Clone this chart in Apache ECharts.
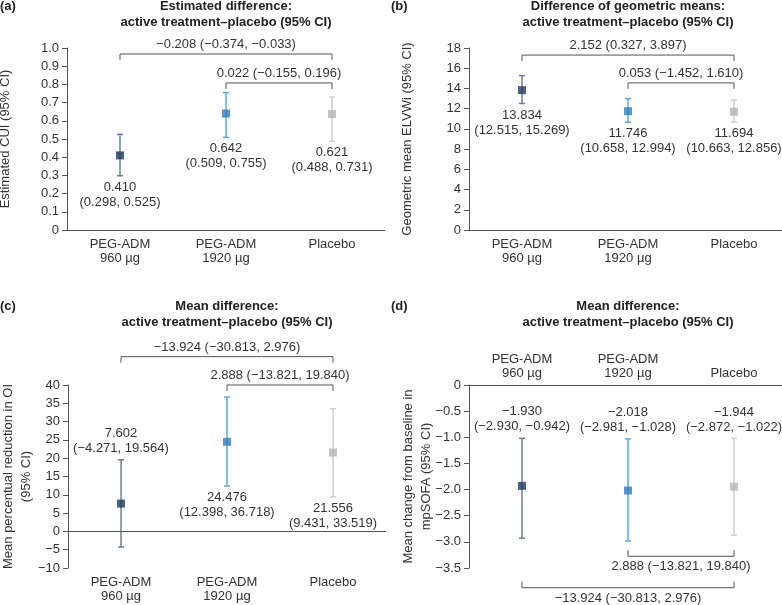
<!DOCTYPE html>
<html>
<head>
<meta charset="utf-8">
<script src="https://cdn.jsdelivr.net/npm/echarts@6/dist/echarts.min.js"></script>
<style>
html, body { margin: 0; padding: 0; background: #fff; }
#main { width: 782px; height: 605px; }
</style>
</head>
<body>
<div id="main"></div>
<script>
const categories = ['PEG-ADM\n960 µg', 'PEG-ADM\n1920 µg', 'Placebo']
const markerColors = ['#1d3a5c', '#2d80c2', '#b5b5b5']
const whiskerColors = ['#6b7f99', '#5ea8de', '#cfcfcf']

// (a) estimated CUI
const cuiMean = [0.41, 0.64, 0.637]
const cuiLow = [0.298, 0.509, 0.488]
const cuiHigh = [0.525, 0.755, 0.731]
const cuiText = ['0.410\n(0.298, 0.525)', '0.642\n(0.509, 0.755)', '0.621\n(0.488, 0.731)']
const cuiBrackets = [[0, 2, 0.967], [1, 2, 0.808]]
const cuiBracketText = ['−0.208 (−0.374, −0.033)', '0.022 (−0.155, 0.196)']

// (b) geometric mean ELVWi
const elvwiMean = [13.834, 11.746, 11.694]
const elvwiLow = [12.515, 10.658, 10.663]
const elvwiHigh = [15.269, 12.994, 12.856]
const elvwiText = ['13.834\n(12.515, 15.269)', '11.746\n(10.658, 12.994)', '11.694\n(10.663, 12.856)']
const elvwiBrackets = [[0, 2, 17.3], [1, 2, 14.55]]
const elvwiBracketText = ['2.152 (0.327, 3.897)', '0.053 (−1.452, 1.610)']

// (c) reduction in OI
const oiMean = [7.602, 24.476, 21.556]
const oiLow = [-4.271, 12.398, 9.431]
const oiHigh = [19.564, 36.718, 33.519]
const oiText = ['7.602\n(−4.271, 19.564)', '24.476\n(12.398, 36.718)', '21.556\n(9.431, 33.519)']
const oiBrackets = [[0, 2, 47.75], [1, 2, 40]]
const oiBracketText = ['−13.924 (−30.813, 2.976)', '2.888 (−13.821, 19.840)']

// (d) change in mpSOFA
const sofaMean = [-1.93, -2.018, -1.944]
const sofaLow = [-2.93, -2.981, -2.872]
const sofaHigh = [-1.02, -1.03, -1.022]
const sofaText = ['−1.930\n(−2.930, −0.942)', '−2.018\n(−2.981, −1.028)', '−1.944\n(−2.872, −1.022)']
const sofaBrackets = [[1, 2, -3.276], [0, 2, -3.877]]
const sofaBracketText = ['2.888 (−13.821, 19.840)', '−13.924 (−30.813, 2.976)']

const FONT = 'Liberation Sans, Arial, sans-serif'
const TXT = '#333'
const AX = '#555'

function minus(v) {
  return String(v).replace('-', '−')
}

// error bars + value labels
function errorBarSeries(gi, low, high, texts, sides) {
  return {
    type: 'custom',
    xAxisIndex: gi,
    yAxisIndex: gi,
    z: 2,
    data: low.map((v, i) => [i, v, high[i]]),
    renderItem(params, api) {
      const i = api.value(0)
      const lo = api.coord([i, api.value(1)])
      const hi = api.coord([i, api.value(2)])
      const c = whiskerColors[i]
      const cap = 3
      const above = sides[i] === 'above'
      return {
        type: 'group',
        children: [
          { type: 'line', shape: { x1: lo[0], y1: lo[1], x2: hi[0], y2: hi[1] }, style: { stroke: c, lineWidth: 1.5 } },
          { type: 'line', shape: { x1: lo[0] - cap, y1: lo[1], x2: lo[0] + cap, y2: lo[1] }, style: { stroke: c, lineWidth: 1.5 } },
          { type: 'line', shape: { x1: hi[0] - cap, y1: hi[1], x2: hi[0] + cap, y2: hi[1] }, style: { stroke: c, lineWidth: 1.5 } },
          {
            type: 'text',
            x: lo[0],
            y: above ? hi[1] - 4 : lo[1] + 4,
            style: {
              text: texts[params.dataIndex],
              align: 'center',
              verticalAlign: above ? 'bottom' : 'top',
              fontSize: 13,
              fontFamily: FONT,
              lineHeight: 15,
              fill: TXT,
            },
          },
        ],
      }
    },
  }
}

function markerSeries(gi, mean) {
  return {
    type: 'scatter',
    xAxisIndex: gi,
    yAxisIndex: gi,
    z: 3,
    symbol: 'rect',
    symbolSize: 8,
    data: mean.map((v, i) => ({ value: [i, v], itemStyle: { color: markerColors[i] } })),
  }
}

// comparison brackets, dir 1 = ticks down (label above), -1 = ticks up (label below)
function bracketSeries(gi, brackets, texts, dir) {
  return {
    type: 'custom',
    xAxisIndex: gi,
    yAxisIndex: gi,
    z: 1,
    data: brackets,
    renderItem(params, api) {
      const a = api.coord([api.value(0), api.value(2)])
      const b = api.coord([api.value(1), api.value(2)])
      const t = 6 * dir
      return {
        type: 'group',
        children: [
          {
            type: 'polyline',
            shape: { points: [[a[0], a[1] + t], [a[0], a[1]], [b[0], b[1]], [b[0], b[1] + t]] },
            style: { stroke: AX, lineWidth: 1, fill: null },
          },
          {
            type: 'text',
            x: (a[0] + b[0]) / 2,
            y: dir > 0 ? a[1] - 3 : a[1] + 4,
            style: {
              text: texts[params.dataIndex],
              align: 'center',
              verticalAlign: dir > 0 ? 'bottom' : 'top',
              fontSize: 13,
              fontFamily: FONT,
              fill: TXT,
            },
          },
        ],
      }
    },
  }
}

function xAxisOf(gi, extra) {
  return Object.assign({
    gridIndex: gi,
    type: 'category',
    data: categories,
    axisLine: { show: true, onZero: false, lineStyle: { color: AX } },
    axisTick: { show: false },
    axisLabel: { color: TXT, fontSize: 13, lineHeight: 14, margin: 7, fontFamily: FONT },
    splitLine: { show: false },
  }, extra)
}

function yAxisOf(gi, min, max, interval, name, gap, fmt) {
  return {
    gridIndex: gi,
    type: 'value',
    min: min,
    max: max,
    interval: interval,
    name: name,
    nameLocation: 'middle',
    nameGap: gap,
    nameMoveOverlap: false,
    nameTextStyle: { color: TXT, fontSize: 13, lineHeight: 18, fontFamily: FONT },
    axisLine: { show: true, lineStyle: { color: AX } },
    axisTick: { show: true, length: 5, lineStyle: { color: AX } },
    axisLabel: { color: TXT, fontSize: 13, margin: 8, fontFamily: FONT, formatter: fmt },
    splitLine: { show: false },
  }
}

function heading(x, y, text) {
  return {
    text: text,
    left: x,
    top: y,
    textAlign: 'center',
    padding: 0,
    textStyle: { fontSize: 13, fontWeight: 'bold', color: '#222', lineHeight: 16, fontFamily: FONT },
  }
}
function letter(x, y, text) {
  return {
    text: text,
    left: x,
    top: y,
    padding: 0,
    textStyle: { fontSize: 13, fontWeight: 'bold', color: '#222', fontFamily: FONT },
  }
}

const chartDom = echarts.init(document.getElementById('main'))
const option = {
  animation: false,
  backgroundColor: '#fff',
  title: [
    letter(0, 0, '(a)'),
    heading(226, -2, 'Estimated difference:\nactive treatment–placebo (95% CI)'),
    letter(391, 0, '(b)'),
    heading(628, -2, 'Difference of geometric means:\nactive treatment–placebo (95% CI)'),
    letter(0, 300, '(c)'),
    heading(227, 298, 'Mean difference:\nactive treatment–placebo (95% CI)'),
    letter(391, 300, '(d)'),
    heading(628, 298, 'Mean difference:\nactive treatment–placebo (95% CI)'),
  ],
  grid: [
    { left: 67, top: 48, width: 318, height: 182, outerBoundsMode: 'none' },
    { left: 469, top: 48, width: 318, height: 182, outerBoundsMode: 'none' },
    { left: 68, top: 385, width: 318, height: 183, outerBoundsMode: 'none' },
    { left: 469, top: 385, width: 318, height: 183, outerBoundsMode: 'none' },
  ],
  xAxis: [
    xAxisOf(0, {}),
    xAxisOf(1, {}),
    xAxisOf(2, { axisLine: { show: false } }),
    xAxisOf(3, { position: 'top', axisLabel: { color: TXT, fontSize: 13, lineHeight: 14, margin: 5, fontFamily: FONT } }),
  ],
  yAxis: [
    yAxisOf(0, 0, 1, 0.1, 'Estimated CUI (95% CI)', 53, (v) => (v === 0 ? '0' : v.toFixed(1))),
    yAxisOf(1, 0, 18, 2, 'Geometric mean ELVWi (95% CI)', 53, (v) => String(v)),
    yAxisOf(2, -10, 40, 5, 'Mean percentual reduction in OI\n(95% CI)', 33, (v) => minus(v)),
    yAxisOf(3, -3.5, 0, 0.5, 'Mean change from baseline in\nmpSOFA (95% CI)', 34, (v) => (v === 0 ? '0' : minus(v.toFixed(1)))),
  ],
  series: [
    errorBarSeries(0, cuiLow, cuiHigh, cuiText, ['below', 'below', 'below']),
    markerSeries(0, cuiMean),
    bracketSeries(0, cuiBrackets, cuiBracketText, 1),

    errorBarSeries(1, elvwiLow, elvwiHigh, elvwiText, ['below', 'below', 'below']),
    markerSeries(1, elvwiMean),
    bracketSeries(1, elvwiBrackets, elvwiBracketText, 1),

    errorBarSeries(2, oiLow, oiHigh, oiText, ['above', 'below', 'below']),
    Object.assign(markerSeries(2, oiMean), {
      markLine: {
        silent: true,
        symbol: 'none',
        label: { show: false },
        lineStyle: { color: AX, width: 1, type: 'solid' },
        data: [{ yAxis: 0 }],
      },
    }),
    bracketSeries(2, oiBrackets, oiBracketText, 1),

    errorBarSeries(3, sofaLow, sofaHigh, sofaText, ['above', 'above', 'above']),
    markerSeries(3, sofaMean),
    bracketSeries(3, sofaBrackets, sofaBracketText, -1),
  ],
}
chartDom.setOption(option)
</script>
</body>
</html>
